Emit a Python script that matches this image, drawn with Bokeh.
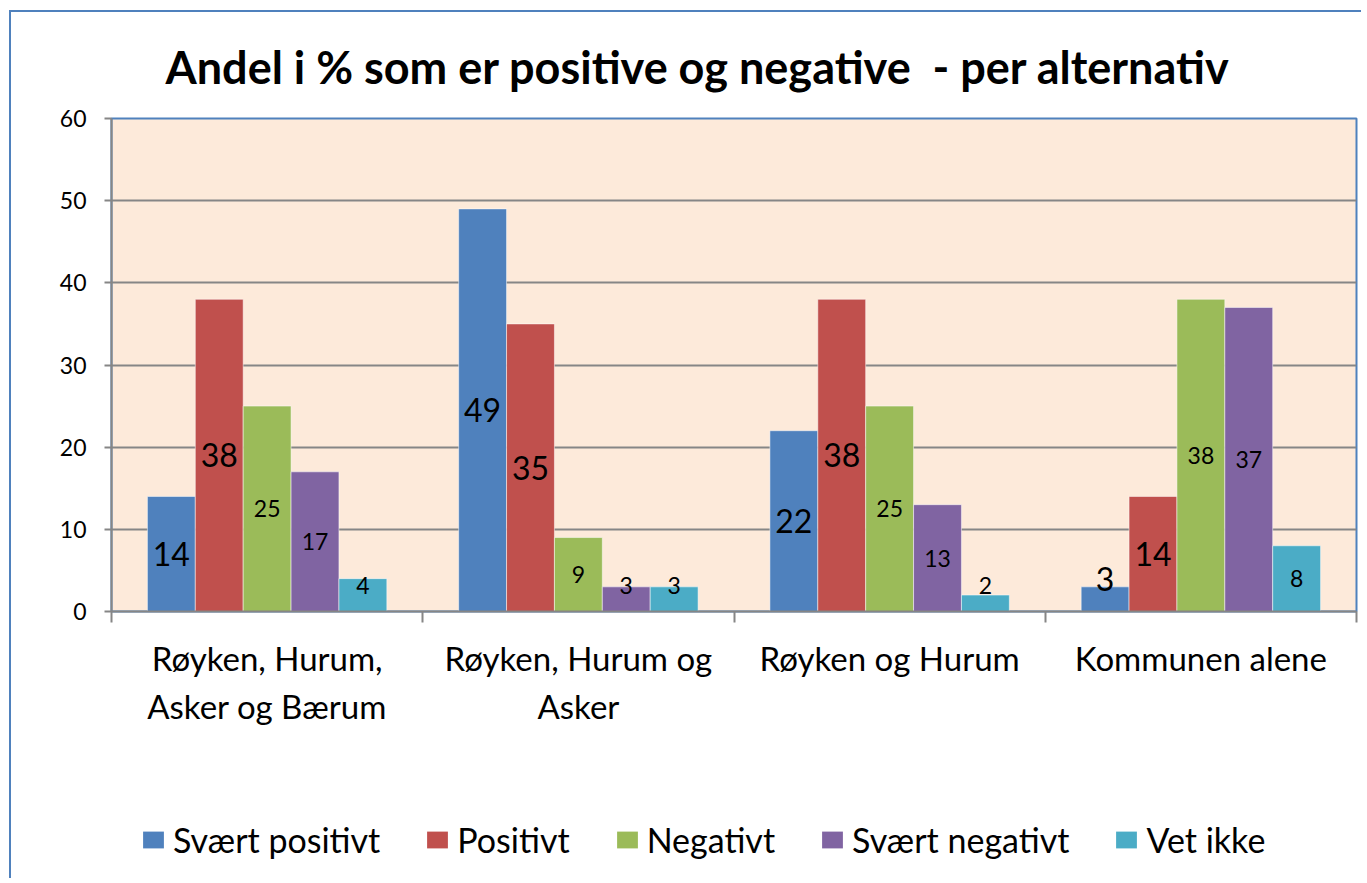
from bokeh.plotting import figure
from bokeh.layouts import column
from bokeh.models import ColumnDataSource, FixedTicker, Legend, LegendItem, Range1d
from bokeh.core.properties import value
from bokeh.embed import file_html
from bokeh.resources import INLINE

# ---- data ----
categories = ["Røyken, Hurum,\nAsker og Bærum", "Røyken, Hurum og\nAsker",
              "Røyken og Hurum", "Kommunen alene"]
series_names = ["Svært positivt", "Positivt", "Negativt", "Svært negativt", "Vet ikke"]
svaert_positivt = [14, 49, 22, 3]
positivt = [38, 35, 38, 14]
negativt = [25, 9, 25, 38]
svaert_negativt = [17, 3, 13, 37]
vet_ikke = [4, 3, 2, 8]
y_ticks = [0, 10, 20, 30, 40, 50, 60]
title_text = "Andel i % som er positive og negative\u00a0 - per alternativ"

series_values = [svaert_positivt, positivt, negativt, svaert_negativt, vet_ikke]
colors = ["#4F81BD", "#C0504D", "#9BBB59", "#8064A2", "#4BACC6"]
label_sizes = ["32px", "32px", "23px", "23px", "23px"]
label_min = [4.0, 4.0, 3.2, 3.2, 3.2]

FONT = value("Lato")
GRAY = "#868686"
BLUE = "#4F81BD"

p = figure(width=1350, height=786, output_backend="svg", toolbar_location=None,
           x_range=Range1d(0, len(categories)), y_range=Range1d(0, 60),
           min_border_left=100, min_border_right=5, min_border_top=104,
           min_border_bottom=187,
           background_fill_color="#FDEADA", border_fill_color="white",
           outline_line_color=BLUE, outline_line_width=2)

n_series = len(series_names)
gap = 1.5
bar_w = 1.0 / (n_series + gap)

# legend-only strip below the chart
leg = figure(width=1350, height=80, output_backend="svg", toolbar_location=None,
             x_range=Range1d(0, 1), y_range=Range1d(0, 1),
             min_border_left=0, min_border_right=0, min_border_top=0,
             min_border_bottom=0, outline_line_color=None,
             background_fill_color="white", border_fill_color="white")
leg.axis.visible = False
leg.grid.visible = False

legend_items = []
for j, (name, vals, col) in enumerate(zip(series_names, series_values, colors)):
    xs = [i + 0.5 + (j - (n_series - 1) / 2) * bar_w for i in range(len(categories))]
    src = ColumnDataSource(dict(x=xs, top=vals,
                                ly=[max(v / 2, label_min[j]) for v in vals],
                                txt=[str(v) for v in vals]))
    p.vbar(x="x", top="top", width=bar_w, source=src, fill_color=col,
           line_color="white", line_alpha=0.5, line_width=1)
    p.text(x="x", y="ly", text="txt", source=src, text_align="center",
           text_baseline="middle", text_font=FONT, text_font_size=label_sizes[j],
           text_color="black")
    # swatch renderer for the legend (its single box lies outside the visible range)
    lr = leg.quad(left=[5], right=[6], bottom=[0], top=[1], fill_color=col,
                  line_color=None)
    legend_items.append(LegendItem(label=name, renderers=[lr]))

# title
p.title.text = title_text
p.title.align = "left"
p.title.offset = 54
p.title.text_font = "Lato"
p.title.text_font_style = "bold"
p.title.text_font_size = "45px"
p.title.text_color = "black"
p.title.standoff = 50

# y axis
p.yaxis.ticker = FixedTicker(ticks=y_ticks)
p.yaxis.axis_line_color = GRAY
p.yaxis.axis_line_width = 2
p.yaxis.major_tick_line_color = GRAY
p.yaxis.major_tick_line_width = 2
p.yaxis.major_tick_in = 0
p.yaxis.major_tick_out = 7
p.yaxis.minor_tick_line_color = None
p.yaxis.major_label_text_font = "Lato"
p.yaxis.major_label_text_font_size = "23px"
p.yaxis.major_label_text_color = "black"
p.yaxis.major_label_standoff = 18

# x axis: labels at centers, ticks at category boundaries
centers = [i + 0.5 for i in range(len(categories))]
bounds = [float(i) for i in range(len(categories) + 1)]
p.xaxis.ticker = FixedTicker(ticks=centers, minor_ticks=bounds)
p.xaxis.major_label_overrides = {c: lab for c, lab in zip(centers, categories)}
p.xaxis.axis_line_color = GRAY
p.xaxis.axis_line_width = 2
p.xaxis.major_tick_line_color = None
p.xaxis.minor_tick_line_color = GRAY
p.xaxis.minor_tick_line_width = 2
p.xaxis.minor_tick_in = 0
p.xaxis.minor_tick_out = 11
p.xaxis.major_label_text_font = "Lato"
p.xaxis.major_label_text_font_size = "33px"
p.xaxis.major_label_text_color = "black"
p.xaxis.major_label_standoff = 15

p.ygrid.ticker = FixedTicker(ticks=y_ticks)
p.ygrid.grid_line_color = GRAY
p.ygrid.grid_line_width = 2
p.xgrid.visible = False

legend = Legend(items=legend_items, orientation="horizontal", location=(29, 18),
                glyph_width=26, glyph_height=21, label_standoff=7, spacing=44,
                padding=0, margin=0, border_line_color=None, background_fill_alpha=0,
                label_text_font="Lato", label_text_font_size="34px",
                label_text_color="black")
leg.add_layout(legend, "center")

layout = column(p, leg, spacing=0)
layout.styles = {"margin-left": "9px", "margin-top": "10px",
                 "border-left": f"2px solid {BLUE}", "border-top": f"2px solid {BLUE}"}

open("out.html", "w").write(file_html(layout, INLINE))
